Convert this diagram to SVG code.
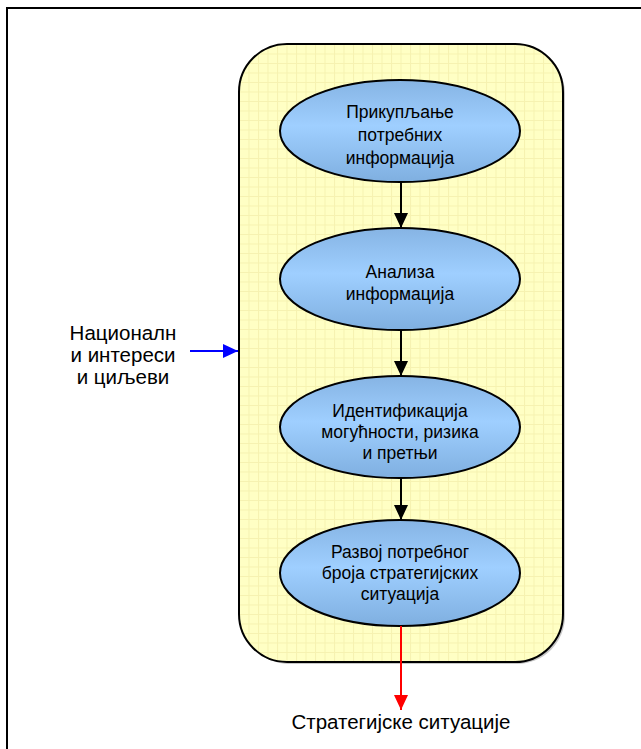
<svg xmlns="http://www.w3.org/2000/svg" width="641" height="749" viewBox="0 0 641 749">
<defs>
<pattern id="grid" x="239" y="44" width="9.5" height="9.5" patternUnits="userSpaceOnUse">
<rect width="9.5" height="9.5" fill="#ffffc4"/>
<path d="M0 0.5 H9.5 M0.5 0 V9.5" stroke="#f6f2b0" stroke-width="1" fill="none"/>
</pattern>
<linearGradient id="blue" x1="0" y1="0" x2="0" y2="1">
<stop offset="0" stop-color="#86b4e4"/>
<stop offset="0.45" stop-color="#9fcfff"/>
<stop offset="1" stop-color="#7fafe0"/>
</linearGradient>
<marker id="ab" viewBox="0 0 10 10" refX="10" refY="5" markerWidth="15" markerHeight="14" markerUnits="userSpaceOnUse" orient="auto" preserveAspectRatio="none"><path d="M0 0 L10 5 L0 10 Z" fill="#000"/></marker>
<marker id="ablue" viewBox="0 0 10 10" refX="10" refY="5" markerWidth="15" markerHeight="14" markerUnits="userSpaceOnUse" orient="auto" preserveAspectRatio="none"><path d="M0 0 L10 5 L0 10 Z" fill="#0000ff"/></marker>
<marker id="ared" viewBox="0 0 10 10" refX="10" refY="5" markerWidth="15" markerHeight="14" markerUnits="userSpaceOnUse" orient="auto" preserveAspectRatio="none"><path d="M0 0 L10 5 L0 10 Z" fill="#ff0000"/></marker>
</defs>
<style>
.ell{fill:url(#blue);stroke:#000;stroke-width:2}
.nt{font-family:"Liberation Sans",Arial,sans-serif;font-size:17.5px;fill:#000;text-anchor:middle}
.ot{font-family:"Liberation Sans",Arial,sans-serif;font-size:20.5px;fill:#000;text-anchor:middle}
.c{stroke:#000;stroke-width:2;fill:none}
</style>
<rect width="641" height="749" fill="#fff"/>
<rect id="frame" x="7" y="8" width="660" height="760" fill="none" stroke="#000" stroke-width="2"/>
<g id="container">
<rect x="241" y="46" width="324" height="618" rx="48" ry="48" fill="#c8c8c8"/>
<rect x="239" y="44" width="324" height="618" rx="48" ry="48" fill="url(#grid)" stroke="#000" stroke-width="2"/>
</g>
<g id="n1">
<ellipse class="ell" cx="400" cy="131" rx="120" ry="51"/>
<text class="nt" x="400" y="118">Прикупљање</text>
<text class="nt" x="400" y="141">потребних</text>
<text class="nt" x="400" y="164">информација</text>
</g>
<g id="n2">
<ellipse class="ell" cx="400" cy="279" rx="120" ry="51"/>
<text class="nt" x="400" y="278">Анализа</text>
<text class="nt" x="400" y="300">информација</text>
</g>
<g id="n3">
<ellipse class="ell" cx="400" cy="427" rx="120" ry="51"/>
<text class="nt" x="400" y="417">Идентификација</text>
<text class="nt" x="400" y="438">могућности, ризика</text>
<text class="nt" x="400" y="459">и претњи</text>
</g>
<g id="n4">
<ellipse class="ell" cx="400" cy="573" rx="120" ry="53"/>
<text class="nt" x="400" y="558">Развој потребног</text>
<text class="nt" x="400" y="579">броја стратегијских</text>
<text class="nt" x="400" y="600">ситуација</text>
</g>
<g id="in">
<text class="ot" x="123" y="340">Националн</text>
<text class="ot" x="123" y="362">и интереси</text>
<text class="ot" x="123" y="384">и циљеви</text>
</g>
<g id="out">
<text class="ot" x="401" y="729">Стратегијске ситуације</text>
</g>
<g id="connectors">
<line class="c" x1="401" y1="182" x2="401" y2="228" marker-end="url(#ab)"/>
<line class="c" x1="401" y1="330" x2="401" y2="376" marker-end="url(#ab)"/>
<line class="c" x1="401" y1="478" x2="401" y2="520" marker-end="url(#ab)"/>
<line x1="190" y1="351" x2="238" y2="351" stroke="#0000ff" stroke-width="2" marker-end="url(#ablue)"/>
<line x1="401" y1="626" x2="401" y2="710" stroke="#ff0000" stroke-width="2" marker-end="url(#ared)"/>
</g>
</svg>
